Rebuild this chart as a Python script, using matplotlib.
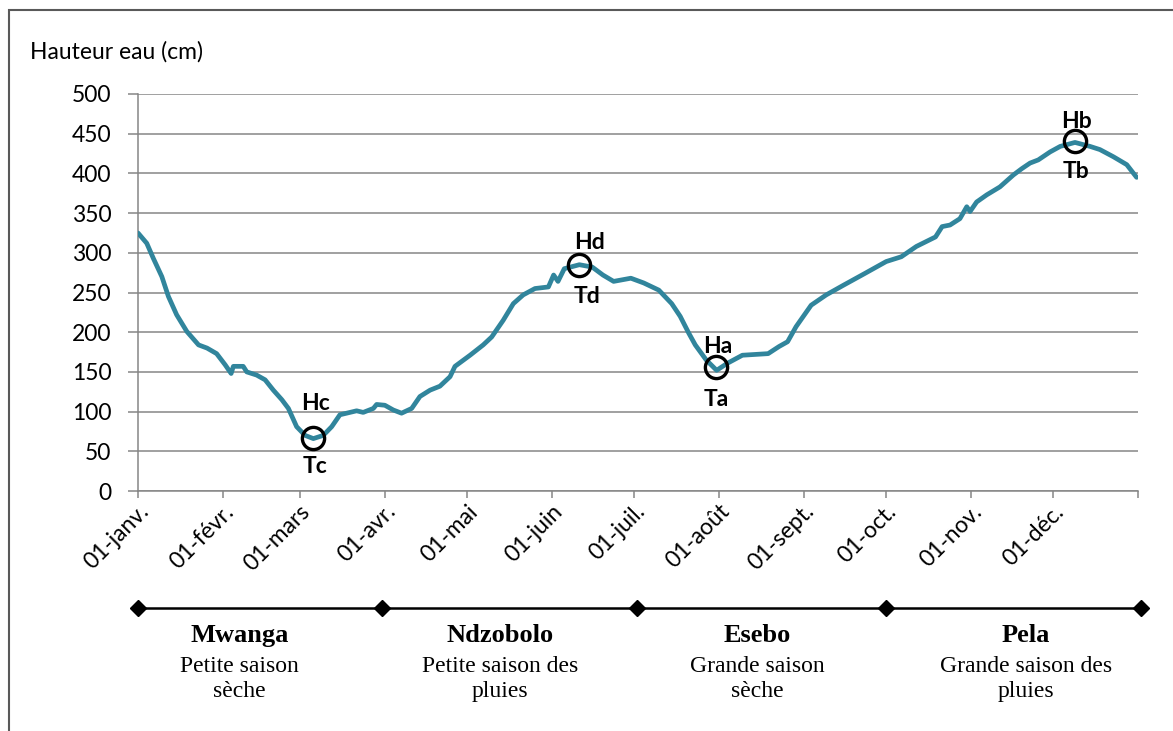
"""
Hauteur d'eau sur l'annee avec les saisons en dessous.
"""
# IMPORTS
#####################
import matplotlib
matplotlib.use("Agg")
import matplotlib.pyplot as plt
from matplotlib.patches import Rectangle


# DATA
########################
# jours depuis le 01-janv. et hauteur d'eau (cm)
days = [0, 3.2, 5.6, 8.7, 11.1, 14.1, 17.8, 22.1, 25.2, 28.7, 31.8, 34.0, 34.8, 38.4,
        39.7, 43.3, 46.4, 49.4, 52.5, 54.9, 57.9, 61.0, 64.0, 67.6, 70.7, 73.7, 79.8,
        82.2, 85.9, 87.1, 90.1, 93.2, 96.2, 99.9, 102.9, 106.6, 110.2, 113.9, 115.7,
        121.2, 126.0, 129.1, 133.3, 137.0, 140.6, 144.9, 149.8, 151.7, 153.3, 155.6,
        161.1, 165.8, 169.7, 173.6, 179.9, 184.6, 190.1, 194.8, 197.9, 201.0, 203.4,
        207.4, 211.2, 215.2, 220.6, 230.0, 234.0, 237.1, 240.2, 245.7, 251.2, 257.4,
        265.3, 273.1, 278.6, 284.1, 291.1, 293.5, 296.4, 300.0, 302.5, 303.7, 306.1,
        309.8, 314.6, 319.5, 322.6, 325.6, 328.6, 332.9, 336.6, 342.0, 347.5, 351.1,
        356.0, 360.9, 364.5]
hauteur = [325, 312, 293, 270, 245, 222, 201, 184, 180, 173, 159, 148, 157, 157,
           150, 146, 140, 127, 115, 104, 81, 70, 66, 70, 81, 96, 101,
           99, 104, 109, 108, 102, 98, 104, 119, 127, 132, 144, 157,
           171, 184, 194, 215, 236, 247, 255, 257, 272, 264, 280,
           285, 282, 272, 264, 268, 262, 253, 236, 220, 199, 184,
           165, 152, 161, 171, 173, 182, 188, 207, 234, 247, 259,
           274, 289, 295, 308, 320, 333, 335, 343, 358, 352, 364,
           373, 383, 398, 406, 413, 417, 427, 434, 439, 434, 430,
           421, 411, 395]

# debut de chaque mois
month_days = [0, 31, 59, 90, 120, 151, 181, 212, 243, 273, 304, 334, 365]
month_labels = ["01-janv.", "01-févr.", "01-mars", "01-avr.", "01-mai", "01-juin",
                "01-juil.", "01-août", "01-sept.", "01-oct.", "01-nov.", "01-déc."]

# points remarquables (jour, hauteur)
key_names = ["c", "d", "a", "b"]
key_days = [64, 161, 211, 342]
key_values = [67, 285, 156, 441]

# saisons
season_limits = [0, 89, 182, 273, 366]
season_names = ["Mwanga", "Ndzobolo", "Esebo", "Pela"]
season_desc = ["Petite saison\nsèche", "Petite saison des\npluies",
               "Grande saison\nsèche", "Grande saison des\npluies"]


# STYLE
########################
W, H = 1173, 731
grey = "#868686"
teal = "#31859C"
sans = ["Lato", "DejaVu Sans"]
serif = ["Liberation Serif", "DejaVu Serif"]
fs = 16.5

# pixel offsets of H/T labels around each circle
h_off = [(2, 34), (10, 22), (2, 21), (2, 19)]
t_off = [(2, -29), (8, -32), (0, -32), (1, -31)]
# centre (in days) of the season labels
season_centre = [37, 132, 226, 324]

fig = plt.figure(figsize=(W / 100, H / 100), dpi=100)

# main axes: x 138..1138 px, y 94..491 px
ax = fig.add_axes([138 / W, 1 - 491 / H, 1000 / W, 397 / H])
ax.plot(days, hauteur, color=teal, lw=3.4, solid_capstyle="round",
        solid_joinstyle="round", zorder=3)
ax.set_xlim(0, 365)
ax.set_ylim(0, 500)
ax.set_yticks(range(0, 501, 50))
ax.yaxis.grid(True, color=grey, lw=1.1)
ax.set_axisbelow(True)
ax.set_xticks(month_days)
ax.set_xticklabels(month_labels + [""], rotation=45, ha="right",
                   rotation_mode="anchor", fontsize=fs, family=sans)
for lab in ax.get_yticklabels():
    lab.set_family(sans)
    lab.set_fontsize(fs)
ax.tick_params(axis="y", length=7, width=1.1, color=grey, pad=12)
ax.tick_params(axis="x", length=5, width=1.1, color=grey, pad=2)
for s in ["top", "right"]:
    ax.spines[s].set_visible(False)
for s in ["left", "bottom"]:
    ax.spines[s].set_color(grey)
    ax.spines[s].set_linewidth(1.1)

# cercles et etiquettes
ax.plot(key_days, key_values, "o", ms=16, mfc="none", mec="black", mew=2.4, zorder=4)
for n, d, v, ho, to in zip(key_names, key_days, key_values, h_off, t_off):
    ax.annotate("H" + n, (d, v), xytext=ho, textcoords="offset pixels",
                ha="center", va="center", fontsize=fs, fontweight="bold", family=sans)
    ax.annotate("T" + n, (d, v), xytext=to, textcoords="offset pixels",
                ha="center", va="center", fontsize=fs, fontweight="bold", family=sans)

fig.text(30 / W, 1 - 52 / H, "Hauteur eau (cm)", ha="left", va="center",
         fontsize=fs, family=sans)

# frise des saisons (y en pixels)
ax2 = fig.add_axes([138 / W, 0, 1000 / W, 150 / H])
ax2.set_xlim(0, 365)
ax2.set_ylim(H, H - 150)
ax2.axis("off")
ax2.plot(season_limits, [608] * len(season_limits), color="black", lw=1.8,
         marker="D", ms=8, clip_on=False)
for c, name, desc in zip(season_centre, season_names, season_desc):
    ax2.text(c, 636, name, ha="center", va="center", fontsize=19,
             fontweight="bold", family=serif)
    ax2.text(c, 679, desc, ha="center", va="center", fontsize=17,
             family=serif, linespacing=1.3)

# cadre
fig.patches.append(Rectangle((8.5 / W, -0.1), 2, 1.1 - 9.5 / H, transform=fig.transFigure,
                             fill=False, ec="#595959", lw=1.5))

fig.savefig("out.png", dpi=100)
